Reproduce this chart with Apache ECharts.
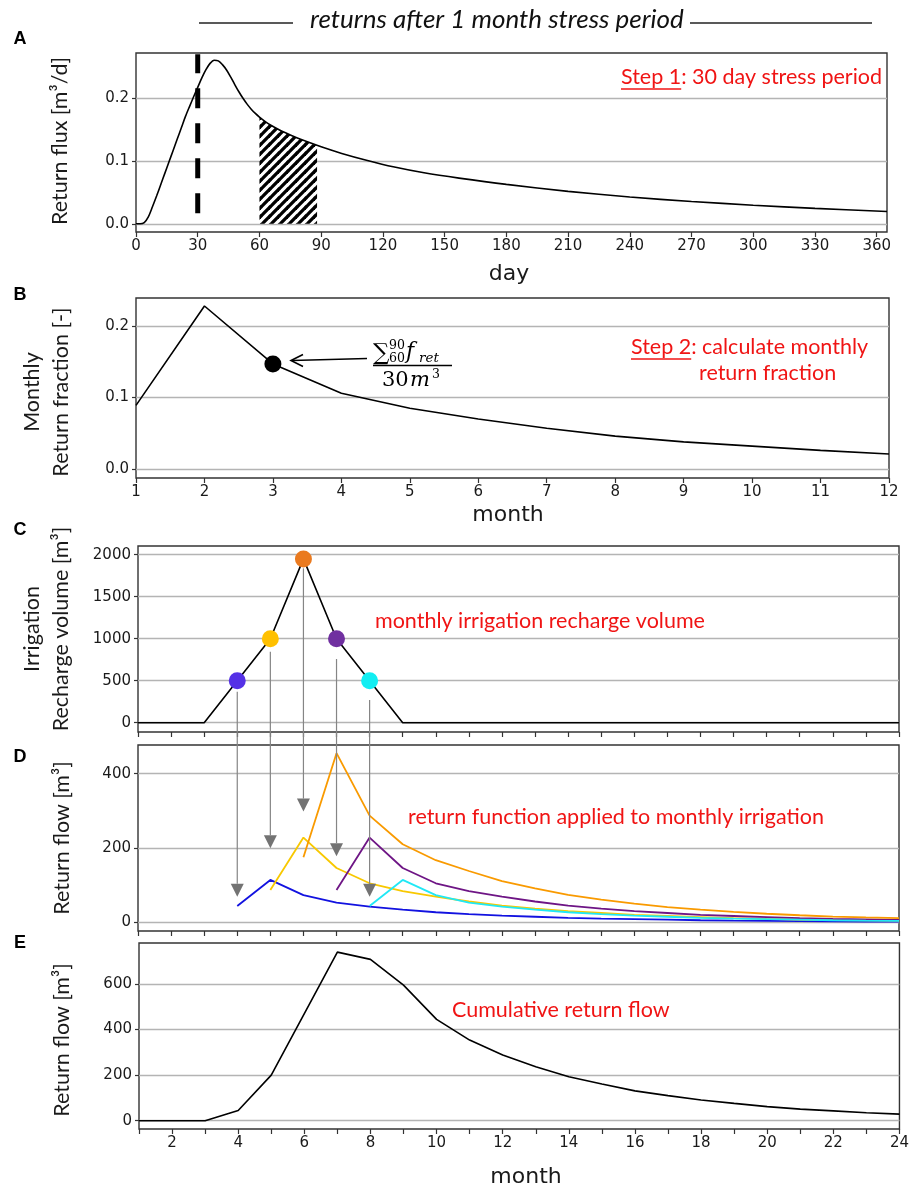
<!DOCTYPE html>
<html><head><meta charset="utf-8">
<script src="https://cdn.jsdelivr.net/npm/echarts@6.0.0/dist/echarts.min.js"></script>
<style>html,body{margin:0;padding:0;background:#fff}#c{width:912px;height:1190px}</style>
</head><body><div id="c"></div>
<script>
// ---------------- DATA ----------------
// Panel A: daily return flux after a 30-day stress period
const days = [0,2,4,6,8,10,12,14,16,18,20,22,24,26,28,30,32,34,36,38,40,42,44,46,48,50,52,54,56,58,60,63,66,70,75,80,90,100,112,125,140,157,180,210,240,270,300,330,365];
const flux = [0,0,0.002,0.011,0.027,0.044,0.062,0.08,0.098,0.116,0.134,0.152,0.17,0.186,0.2015,0.2165,0.2315,0.2445,0.2545,0.2595,0.2585,0.2525,0.244,0.233,0.221,0.2095,0.1991,0.1899,0.1819,0.1751,0.1693,0.1618,0.1555,0.1483,0.1408,0.134,0.1222,0.1117,0.1009,0.0905,0.081,0.0725,0.0625,0.0515,0.0425,0.0355,0.0295,0.0245,0.0195];
const hatchDays = [60,63,66,70,75,80,85,88];
const hatchFlux = [0.1693,0.1618,0.1555,0.1483,0.1408,0.134,0.128,0.1245];
const stressDay = 30;
const stressLineRange = [0.0166, 0.269];
const dayTicks = [0,30,60,90,120,150,180,210,240,270,300,330,360];
const fluxTicks = [0,0.1,0.2];

// Panel B: monthly return fraction
const months12 = [1,2,3,4,5,6,7,8,9,10,11,12];
const monthlyFraction = [0.089,0.228,0.147,0.106,0.085,0.070,0.057,0.046,0.038,0.032,0.026,0.021];
const markedPoint = [3, 0.147];
const fractionTicks = [0,0.1,0.2];

// Panel C: monthly irrigation recharge volume
const months24 = [1,2,3,4,5,6,7,8,9,10,11,12,13,14,15,16,17,18,19,20,21,22,23,24];
const irrigation = [0,0,0,500,1000,1950,1000,500,0,0,0,0,0,0,0,0,0,0,0,0,0,0,0,0];
const irrigationMonths = [4,5,6,7,8];
const irrigationValues = [500,1000,1950,1000,500];
const rechargeTicks = [0,500,1000,1500,2000];

// Panel D: return function applied to each monthly irrigation
const flowStartMonths = [4,5,6,7,8];
const flowBlue   = [44,114,73,53,42,34,27,22,18,15,12,10,8.5,7,5.5,4.5,3.8,3.2,2.6,2.2,1.8];
const flowGold   = [87,228,146,105,84,69,56,45,37,30,25,20,17,14,11,9,7.5,6.2,5.1,4.3];
const flowOrange = [175,455,287,210,167,138,111,91,74,61,50,41,34,28,23,19,15.5,13,11];
const flowPurple = [87,228,146,105,84,69,56,45,37,30,25,20,17,14,11,9,7.5,6.2];
const flowCyan   = [44,114,73,53,42,34,27,22,18,15,12,10,8.5,7,5.5,4.5,3.8];
const arrowFromC = [369,845,1838,758,270];   // where each grey arrow leaves panel C (C units)
const arrowToD   = [69,199,298,178,69];      // arrow tip in panel D (D units)
const flowTicks = [0,200,400];

// Panel E: cumulative return flow
const cumulative = [0,0,0,45,200,470,740,708,595,445,354,288,237,193,161,131,110,91,76,62,51,43,35,29];
const cumTicks = [0,200,400,600];
const monthLabelsE = [2,4,6,8,10,12,14,16,18,20,22,24];

// ---------------- STYLE ----------------
const FRAME='#333', GRIDC='#b4b4b4', TXT='#1a1a1a', RED='#f01414';
const pointColors = ['#5531e6','#ffc000','#ea7a1f','#7030a0','#12eef2'];
const flowColors  = ['#1212e0','#f8c800','#f99a00','#6e1585','#20e8f5'];
const LBL = {fontFamily:'DejaVu Sans', fontSize:15, color:TXT};

const chart = echarts.init(document.getElementById('c'), null, {renderer:'canvas', width:912, height:1190});

const gridsPx = [
  {left:136, top:53,  width:751, height:179},
  {left:136, top:298, width:753, height:180},
  {left:138, top:546, width:761, height:186},
  {left:138, top:745, width:761, height:186},
  {left:139, top:943, width:762, height:186}
];
const grid = gridsPx.map(g => Object.assign({show:true, borderColor:FRAME, borderWidth:1.4, backgroundColor:'transparent', containLabel:false}, g));

function xAx(gi, min, max, ticks, labels, fmt) {
  return {type:'value', gridIndex:gi, min:min, max:max,
    axisLine:{show:false, onZero:false},
    axisTick:{show:true, length:5, customValues:ticks, lineStyle:{color:FRAME, width:1.2}},
    axisLabel: labels ? Object.assign({show:true, margin:7, customValues:labels, formatter:fmt}, LBL) : {show:false},
    splitLine:{show:false}};
}
function yAx(gi, min, max, ticks, fmt) {
  return {type:'value', gridIndex:gi, min:min, max:max,
    axisLine:{show:false, onZero:false},
    axisTick:{show:true, length:4, customValues:ticks, lineStyle:{color:FRAME, width:1.2}},
    axisLabel:Object.assign({show:true, margin:7, customValues:ticks, formatter:fmt}, LBL),
    splitLine:{show:true, lineStyle:{color:GRIDC, width:1.3}}};
}

// hatch pattern
const pc = document.createElement('canvas');
pc.width = 9; pc.height = 9;
const pctx = pc.getContext('2d');
pctx.fillStyle = '#fff'; pctx.fillRect(0,0,9,9);
pctx.strokeStyle = '#000'; pctx.lineWidth = 3.3;
[[-1,10,10,-1],[-1,1,1,-1],[8,10,10,8]].forEach(s => {pctx.beginPath(); pctx.moveTo(s[0],s[1]); pctx.lineTo(s[2],s[3]); pctx.stroke();});

const zip = (xs, ys) => xs.map((x,i) => [x, ys[i]]);
const flows = [flowBlue, flowGold, flowOrange, flowPurple, flowCyan];

const series = [
  {type:'line', xAxisIndex:0, yAxisIndex:0, data:zip(hatchDays, hatchFlux), symbol:'none', smooth:0.2,
   lineStyle:{width:0}, areaStyle:{color:{image:pc, repeat:'repeat'}, opacity:1}, z:2},
  {type:'line', xAxisIndex:0, yAxisIndex:0, data:zip(days, flux), symbol:'none', smooth:0.3,
   lineStyle:{color:'#000', width:1.6}, z:3},
  {type:'line', xAxisIndex:0, yAxisIndex:0, data:[[stressDay, stressLineRange[0]],[stressDay, stressLineRange[1]]], symbol:'none',
   lineStyle:{color:'#000', width:5, type:[20,15], cap:'butt'}, z:4},
  {type:'line', xAxisIndex:1, yAxisIndex:1, data:zip(months12, monthlyFraction), symbol:'none',
   lineStyle:{color:'#000', width:1.6}, z:3},
  {type:'scatter', xAxisIndex:1, yAxisIndex:1, data:[markedPoint], symbolSize:17, itemStyle:{color:'#000', opacity:1}, z:4},
  {type:'line', xAxisIndex:2, yAxisIndex:2, data:zip(months24, irrigation), symbol:'none',
   lineStyle:{color:'#000', width:1.6}, z:3},
  {type:'scatter', xAxisIndex:2, yAxisIndex:2, symbolSize:17, z:4,
   data: irrigationMonths.map((m,i) => ({value:[m, irrigationValues[i]], itemStyle:{color:pointColors[i], opacity:1}}))}
];
flows.forEach((f, k) => {
  series.push({type:'line', xAxisIndex:3, yAxisIndex:3, symbol:'none',
    data: f.map((v,i) => [flowStartMonths[k] + i, v]),
    lineStyle:{color:flowColors[k], width:1.8}, z: 3 + (k===2 ? 2 : 0)});
});
series.push({type:'line', xAxisIndex:4, yAxisIndex:4, data:zip(months24, cumulative), symbol:'none',
  lineStyle:{color:'#000', width:1.6}, z:3});

const fmt1 = v => Number(v).toFixed(1);
const fmt0 = v => String(Math.round(v));

chart.setOption({
  animation:false,
  backgroundColor:'#fff',
  grid: grid,
  xAxis: [
    xAx(0, 0, 365, dayTicks, dayTicks, fmt0),
    xAx(1, 1, 12, months12, months12, fmt0),
    xAx(2, 1, 24, months24, null),
    xAx(3, 1, 24, months24, null),
    xAx(4, 1, 24, months24, monthLabelsE, fmt0)
  ],
  yAxis: [
    yAx(0, -0.013, 0.271, fluxTicks, fmt1),
    yAx(1, -0.0126, 0.2392, fractionTicks, fmt1),
    yAx(2, -110.7, 2103.6, rechargeTicks, fmt0),
    yAx(3, -23.4, 477, flowTicks, fmt0),
    yAx(4, -36.4, 780, cumTicks, fmt0)
  ],
  series: series
});

// ---------------- ANNOTATIONS ----------------
const mctx = document.createElement('canvas').getContext('2d');
function tw(str, font) { mctx.font = font; return mctx.measureText(str).width; }

const G = [];
function txt(x, y, text, o) {
  o = o || {};
  G.push({type:'text', x:x, y:y, rotation:o.rot||0, z:100,
    style:{text:text, fill:o.fill||TXT, fontFamily:o.family||'Lato', fontSize:o.size||21,
      fontStyle:o.style||'normal', fontWeight:o.weight||'normal',
      align:o.align||'center', verticalAlign:'middle', lineHeight:o.lh||undefined}});
}
function line(x1,y1,x2,y2,stroke,w){ G.push({type:'line', z:100, shape:{x1:x1,y1:y1,x2:x2,y2:y2}, style:{stroke:stroke, lineWidth:w}}); }

// title
txt(310, 20, 'returns after 1 month stress period', {align:'left', size:26, style:'italic', fill:'#111'});
line(199, 23, 293, 23, '#222', 1.4);
line(690, 23, 872, 23, '#222', 1.4);

// panel letters
[['A',39],['B',295],['C',530],['D',757],['E',943]].forEach(p => txt(20, p[1], p[0], {family:'Liberation Sans', weight:'bold', size:18, fill:'#000'}));

// axis titles
const R = Math.PI/2;
const AX = 21.5;
txt(60, 141, 'Return flux [m³/d]', {rot:R, size:AX});
txt(47, 392, 'Monthly\nReturn fraction [-]', {rot:R, size:AX, lh:29});
txt(47, 629, 'Irrigation\nRecharge volume [m³]', {rot:R, size:AX, lh:29});
txt(62, 838, 'Return flow [m³]', {rot:R, size:AX});
txt(62, 1040, 'Return flow [m³]', {rot:R, size:AX});
txt(509, 274, 'day', {family:'DejaVu Sans', size:22});
txt(508, 515, 'month', {family:'DejaVu Sans', size:22});
txt(526, 1177, 'month', {family:'DejaVu Sans', size:22});

// red annotations
const redFont = 21.5;
const redF = redFont + 'px Lato';
txt(621, 77, 'Step 1: 30 day stress period', {align:'left', size:redFont, fill:RED});
line(621, 89, 621 + tw('Step 1', redF), 89, RED, 1.4);
txt(631, 347, 'Step 2: calculate monthly', {align:'left', size:redFont, fill:RED});
line(631, 359, 631 + tw('Step 2', redF), 359, RED, 1.4);
txt(699, 373, 'return fraction', {align:'left', size:redFont, fill:RED});
txt(375, 621, 'monthly irrigation recharge volume', {align:'left', size:redFont, fill:RED});
txt(408, 817, 'return function applied to monthly irrigation', {align:'left', size:redFont, fill:RED});
txt(452, 1010, 'Cumulative return flow', {align:'left', size:redFont, fill:RED});

// fraction formula in panel B
const SER = 'DejaVu Serif';
txt(373, 354, '∑', {align:'left', family:SER, size:23, fill:'#000'});
txt(389, 346, '90', {align:'left', family:SER, size:12.5, fill:'#000'});
txt(389, 359, '60', {align:'left', family:SER, size:12.5, fill:'#000'});
txt(406, 352, 'f', {align:'left', family:SER, size:22, style:'italic', fill:'#000'});
txt(419, 358, 'ret', {align:'left', family:SER, size:13.5, style:'italic', fill:'#000'});
line(373, 365.5, 452, 365.5, '#000', 1.3);
txt(382, 381, '30', {align:'left', family:SER, size:21, fill:'#000'});
txt(410, 381, 'm', {align:'left', family:SER, size:21, style:'italic', fill:'#000'});
txt(432, 375, '3', {align:'left', family:SER, size:12.5, fill:'#000'});
// arrow to the marked point
line(367, 358.5, 292, 360.5, '#000', 1.5);
G.push({type:'polyline', z:100, shape:{points:[[303,354.5],[291,360.5],[303,366.5]]}, style:{stroke:'#000', lineWidth:1.6, fill:null}});

// grey arrows from panel C to panel D
irrigationMonths.forEach((m, i) => {
  const p0 = chart.convertToPixel({gridIndex:2}, [m, arrowFromC[i]]);
  const p1 = chart.convertToPixel({gridIndex:3}, [m, arrowToD[i]]);
  const headH = 13, headW = 6.5;
  G.push({type:'line', z:40, shape:{x1:p0[0], y1:p0[1], x2:p1[0], y2:p1[1]-headH}, style:{stroke:'#858585', lineWidth:1.2}});
  G.push({type:'polygon', z:40, shape:{points:[[p1[0]-headW, p1[1]-headH],[p1[0]+headW, p1[1]-headH],[p1[0], p1[1]]]}, style:{fill:'#737373'}});
});

chart.setOption({graphic: G});
</script></body></html>
